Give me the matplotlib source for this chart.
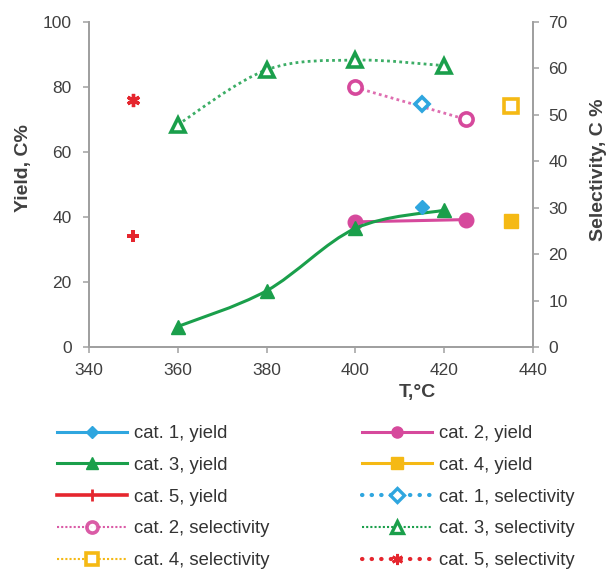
import numpy as np
import matplotlib
matplotlib.use('Agg')
import matplotlib.pyplot as plt
from matplotlib.lines import Line2D
from matplotlib.path import Path
from matplotlib.patches import PathPatch

plt.rcParams['font.family'] = ['Liberation Sans', 'DejaVu Sans']

# data
cat1_t = [415]
cat1_yield = [43.1]
cat1_sel = [52.3]

cat2_t = [400, 425]
cat2_yield = [38.5, 39.2]
cat2_sel = [55.9, 49.0]

cat3_t = [360, 380, 400, 420]
cat3_yield = [6.3, 17.3, 36.5, 42.1]
cat3_sel = [47.9, 59.7, 61.8, 60.6]

cat4_t = [435]
cat4_yield = [38.8]
cat4_sel = [51.8]

cat5_t = [350]
cat5_yield = [34.3]
cat5_sel = [53.1]

x_ticks = [340, 360, 380, 400, 420, 440]
yield_ticks = [0, 20, 40, 60, 80, 100]
sel_ticks = [0, 10, 20, 30, 40, 50, 60, 70]

# colours
c_blue = '#2fa6df'
c_pink = '#d6499c'
c_green = '#1a9f4b'
c_yellow = '#f5b914'
c_red = '#e5262e'
c_text = '#404040'
c_axis = '#a0a0a0'


def smooth_path(x, y):
    # Excel-like smoothed line: cubic bezier through the points
    pts = np.column_stack([x, y]).astype(float)
    n = len(pts)
    verts = [pts[0]]
    codes = [Path.MOVETO]
    for i in range(n - 1):
        p0 = pts[max(i - 1, 0)]
        p1 = pts[i]
        p2 = pts[i + 1]
        p3 = pts[min(i + 2, n - 1)]
        verts += [p1 + (p2 - p0) / 6, p2 - (p3 - p1) / 6, p2]
        codes += [Path.CURVE4] * 3
    return Path(verts, codes)


fig = plt.figure(figsize=(6.09, 5.75), dpi=100)
ax = fig.add_axes([89 / 609, 1 - 347 / 575, (533 - 89) / 609, (347 - 22) / 575])
ax2 = ax.twinx()

ms = 9.5
open_kw = dict(markerfacecolor='white', markeredgewidth=2.6)

# yield (left axis)
ax.plot(cat2_t, cat2_yield, color=c_pink, lw=2.2, marker='o', ms=ms + 1, zorder=3)
ax.add_patch(PathPatch(smooth_path(cat3_t, cat3_yield), fill=False, edgecolor=c_green, lw=2.2, zorder=3))
ax.plot(cat3_t, cat3_yield, ls='none', color=c_green, marker='^', ms=ms + 1, zorder=4)
ax.plot(cat1_t, cat1_yield, ls='none', color=c_blue, marker='D', ms=ms - 2, zorder=4)
ax.plot(cat4_t, cat4_yield, ls='none', color=c_yellow, marker='s', ms=ms, zorder=4)
ax.plot(cat5_t, cat5_yield, ls='none', color=c_red, marker='P', ms=ms - 1.5, markeredgewidth=0, zorder=4)

# selectivity (right axis)
ax2.plot(cat2_t, cat2_sel, color=c_pink, lw=2, ls=(0, (1, 1.2)), alpha=0.8, zorder=3)
ax2.plot(cat2_t, cat2_sel, ls='none', color=c_pink, marker='o', ms=ms, **open_kw, zorder=4)
ax2.add_patch(PathPatch(smooth_path(cat3_t, cat3_sel), fill=False, edgecolor=c_green, lw=2,
                        ls=(0, (1, 1.2)), alpha=0.85, zorder=3))
ax2.plot(cat3_t, cat3_sel, ls='none', color=c_green, marker='^', ms=ms + 1, **open_kw, zorder=4)
ax2.plot(cat1_t, cat1_sel, ls='none', color=c_blue, marker='D', ms=ms - 2, **open_kw, zorder=4)
ax2.plot(cat4_t, cat4_sel, ls='none', color=c_yellow, marker='s', ms=ms, **open_kw, zorder=4)
ax2.plot(cat5_t, cat5_sel, ls='none', color=c_red, marker=(6, 2, 0), ms=ms, markeredgewidth=2.4, zorder=4)

# axes
ax.set_xlim(340, 440)
ax.set_ylim(0, 100)
ax2.set_ylim(0, 70)
ax.set_xticks(x_ticks)
ax.set_yticks(yield_ticks)
ax2.set_yticks(sel_ticks)

for a in (ax, ax2):
    a.spines['top'].set_visible(False)
    for s in ('left', 'right', 'bottom'):
        a.spines[s].set_color(c_axis)
        a.spines[s].set_linewidth(1.3)
    a.tick_params(colors=c_axis, labelcolor=c_text, labelsize=12.5, length=4.5, width=1.1)
ax.tick_params(axis='y', pad=8)
ax.tick_params(axis='x', pad=7)
ax2.tick_params(axis='y', pad=6.5)

ax.set_ylabel('Yield, C%', fontsize=14, fontweight='bold', color=c_text)
ax.yaxis.set_label_coords(-0.128, 0.55)
ax2.set_ylabel('Selectivity, C %', fontsize=14, fontweight='bold', color=c_text)
ax2.yaxis.set_label_coords(1.128, 0.545)
ax.set_xlabel('T,°C', fontsize=14, fontweight='bold', color=c_text)
ax.xaxis.set_label_coords(0.74, -0.115)

# legend (row order as in the chart: two columns)
h = {
    'c1y': Line2D([], [], color=c_blue, lw=2.2, marker='D', ms=6),
    'c2y': Line2D([], [], color=c_pink, lw=2.2, marker='o', ms=8),
    'c3y': Line2D([], [], color=c_green, lw=2.2, marker='^', ms=8),
    'c4y': Line2D([], [], color=c_yellow, lw=2.2, marker='s', ms=8),
    'c5y': Line2D([], [], color=c_red, lw=2.6, marker='|', ms=8, markeredgewidth=2),
    'c1s': Line2D([], [], color=c_blue, lw=3, ls=(0, (0.1, 2.2)), dash_capstyle='round',
                  marker='D', ms=7, markerfacecolor='white', markeredgewidth=2.4),
    'c2s': Line2D([], [], color=c_pink, lw=1.5, ls=(0, (1, 1)), alpha=0.9,
                  marker='o', ms=8, markerfacecolor='white', markeredgewidth=2.6),
    'c3s': Line2D([], [], color=c_green, lw=1.5, ls=(0, (1, 1)),
                  marker='^', ms=8, markerfacecolor='white', markeredgewidth=2.4),
    'c4s': Line2D([], [], color=c_yellow, lw=1.5, ls=(0, (1, 1)),
                  marker='s', ms=8, markerfacecolor='white', markeredgewidth=2.6),
    'c5s': Line2D([], [], color=c_red, lw=3, ls=(0, (0.1, 2.2)), dash_capstyle='round',
                  marker=(6, 2, 0), ms=8, markeredgewidth=2),
}
labels = {
    'c1y': 'cat. 1, yield', 'c2y': 'cat. 2, yield', 'c3y': 'cat. 3, yield',
    'c4y': 'cat. 4, yield', 'c5y': 'cat. 5, yield', 'c1s': 'cat. 1, selectivity',
    'c2s': 'cat. 2, selectivity', 'c3s': 'cat. 3, selectivity',
    'c4s': 'cat. 4, selectivity', 'c5s': 'cat. 5, selectivity',
}
order = ['c1y', 'c3y', 'c5y', 'c2s', 'c4s', 'c2y', 'c4y', 'c1s', 'c3s', 'c5s']
leg = fig.legend([h[k] for k in order], [labels[k] for k in order], ncol=2,
                 loc='upper left', bbox_to_anchor=(57 / 609, 1 - 425 / 575),
                 frameon=False, fontsize=13.3, handlelength=3.8, handletextpad=0.38,
                 columnspacing=5.0, labelspacing=0.8, borderpad=0, borderaxespad=0)
for t in leg.get_texts():
    t.set_color('#333333')

fig.savefig('out.png', dpi=100)
